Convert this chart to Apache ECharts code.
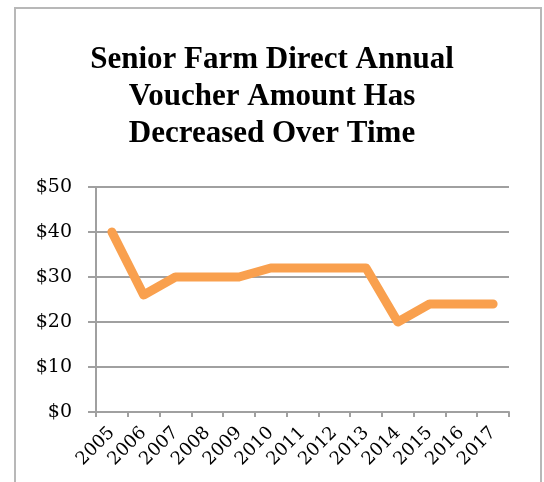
<!DOCTYPE html>
<html>
<head>
<meta charset="utf-8">
<script src="https://cdn.jsdelivr.net/npm/echarts@6/dist/echarts.min.js"></script>
<style>
  html, body { margin: 0; padding: 0; background: #fff; }
  #chart { width: 544px; height: 482px; }
</style>
</head>
<body>
<div id="chart"></div>
<script>
var years = ['2005', '2006', '2007', '2008', '2009', '2010', '2011',
             '2012', '2013', '2014', '2015', '2016', '2017'];
var voucher = [40, 26, 30, 30, 30, 32, 32, 32, 32, 20, 24, 24, 24];
var titleText = 'Senior Farm Direct Annual\nVoucher Amount Has\nDecreased Over Time';

var chart = echarts.init(document.getElementById('chart'));
var gray = '#a0a0a0';

chart.setOption({
    animation: false,
    title: {
        text: titleText,
        left: 'center',
        top: 36,
        textStyle: {
            fontFamily: 'Liberation Serif',
            fontWeight: 'bold',
            fontSize: 31,
            lineHeight: 37,
            color: '#000'
        }
    },
    graphic: [{
        type: 'rect',
        shape: { x: 15, y: 8, width: 526, height: 490 },
        style: { fill: 'none', stroke: '#b8b8b8', lineWidth: 2 },
        silent: true
    }],
    grid: { left: 96, right: 35, top: 187, bottom: 70 },
    xAxis: {
        type: 'category',
        data: years,
        boundaryGap: true,
        axisLine: { lineStyle: { color: gray, width: 2 } },
        axisTick: { show: true, length: 5, lineStyle: { color: gray, width: 2 } },
        axisLabel: {
            rotate: 45,
            margin: 18,
            interval: 0,
            fontFamily: 'DejaVu Serif',
            fontSize: 18,
            color: '#000'
        }
    },
    yAxis: {
        type: 'value',
        min: 0,
        max: 50,
        interval: 10,
        axisLine: { show: true, lineStyle: { color: gray, width: 2 } },
        axisTick: { show: true, length: 8, lineStyle: { color: gray, width: 2 } },
        splitLine: { lineStyle: { color: gray, width: 2 } },
        axisLabel: {
            margin: 24,
            formatter: '${value}',
            fontFamily: 'DejaVu Serif',
            fontSize: 19,
            color: '#000'
        }
    },
    series: [{
        type: 'line',
        data: voucher,
        showSymbol: false,
        lineStyle: { color: '#f9a04e', width: 9, cap: 'round', join: 'round' }
    }]
});
</script>
</body>
</html>
